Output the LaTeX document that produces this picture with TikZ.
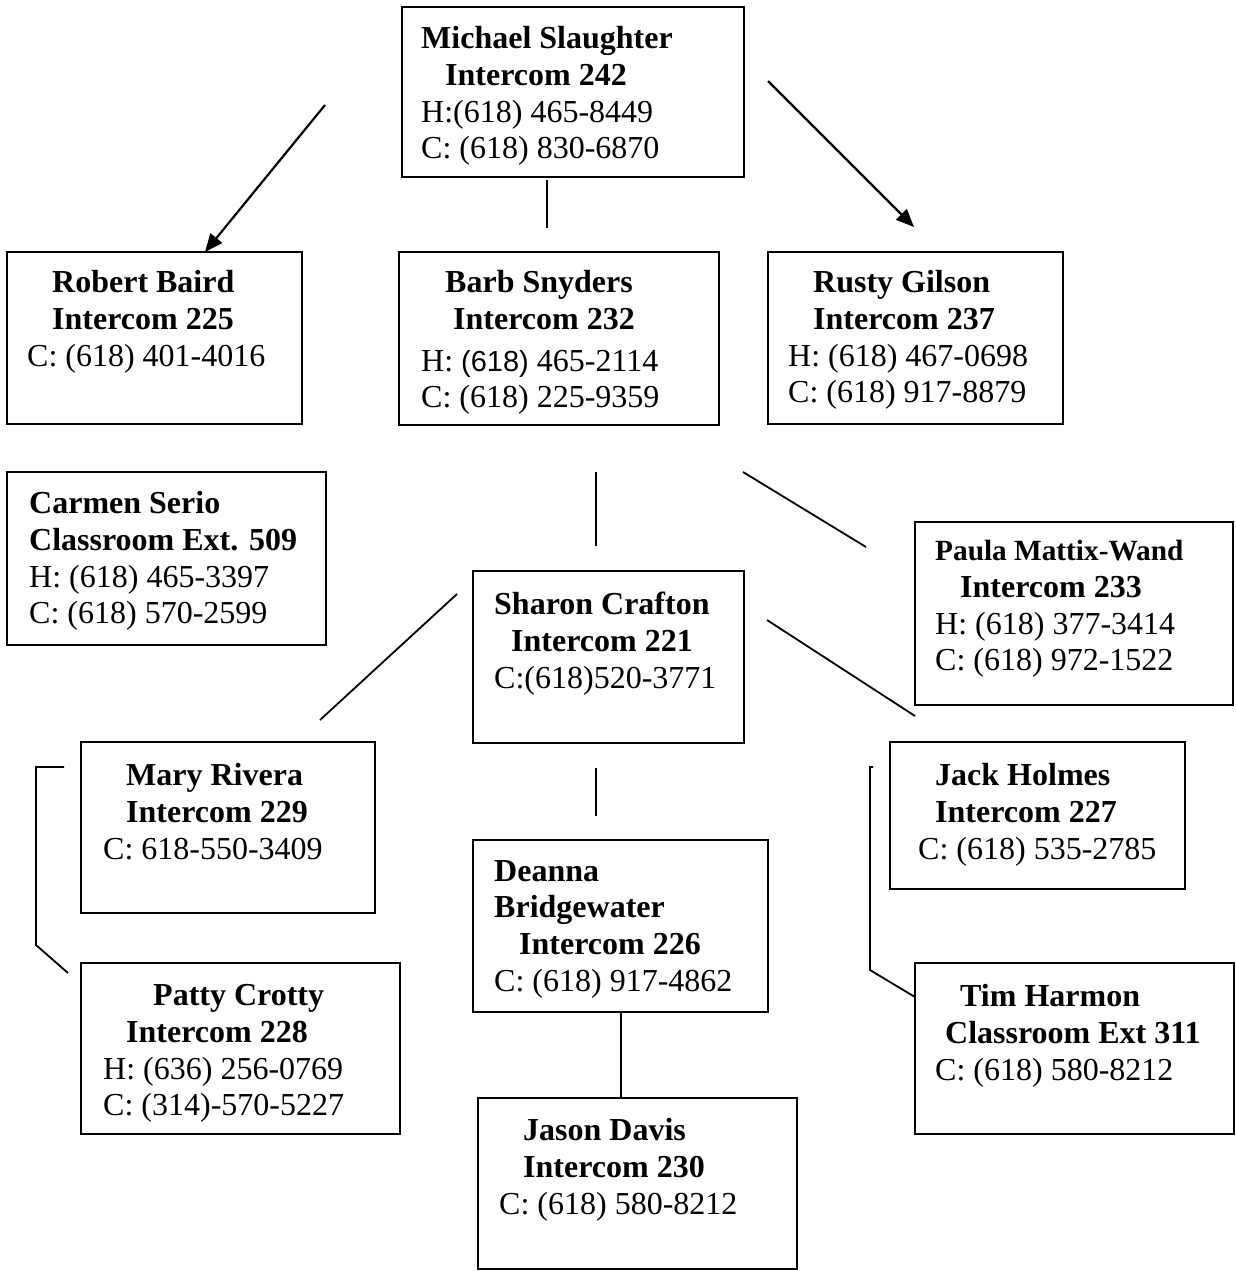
\documentclass[tikz,border=0pt]{standalone}
\usepackage{fontspec}
\setmainfont{Liberation Serif}
\newfontfamily\arialfont{Liberation Sans}
\usetikzlibrary{positioning,arrows.meta}
\newcommand\boxfont{\fontsize{32}{36.8}\selectfont}

\begin{document}
\begin{tikzpicture}[x=1pt,y=-1pt,
  box/.style={draw=black,line width=1.8pt,anchor=north west,inner sep=0pt,outer sep=0pt},
  txt/.style={anchor=north west,inner sep=0pt,align=left,font=\boxfont,yshift=-4pt},
  link/.style={draw=black,line width=1.8pt},
  >={Triangle[length=18pt,width=15pt]}]
\useasboundingbox (0,0) rectangle (1236,1271);

% boxes and texts
\node[box,minimum width=342,minimum height=170] (slaughter) at (402,7) {};
\node[txt] (slaughter-t) at (421,22) {\textbf{Michael Slaughter}\\\hspace*{24pt}\textbf{Intercom 242}\\H:(618) 465-8449\\C: (618) 830-6870};

\node[box,minimum width=295,minimum height=172] (baird) at (7,252) {};
\node[txt] (baird-t) at (27,266) {\hspace*{25pt}\textbf{Robert Baird}\\\hspace*{25pt}\textbf{Intercom 225}\\C: (618) 401-4016};

\node[box,minimum width=320,minimum height=173] (snyders) at (399,252) {};
\node[txt] (snyders-t) at (421,266) {\hspace*{24pt}\textbf{Barb Snyders}\\\hspace*{32pt}\textbf{Intercom 232}\\[5pt]H: {\arialfont\fontsize{29}{36.8}\selectfont(618)} 465-2114\\C: (618) 225-9359};

\node[box,minimum width=295,minimum height=172] (gilson) at (768,252) {};
\node[txt] (gilson-t) at (788,266) {\hspace*{25pt}\textbf{Rusty Gilson}\\\hspace*{25pt}\textbf{Intercom 237}\\H: (618) 467-0698\\C: (618) 917-8879};

\node[box,minimum width=319,minimum height=173] (serio) at (7,472) {};
\node[txt] (serio-t) at (29,487) {\textbf{Carmen Serio}\\\textbf{Classroom Ext. 509}\\H: (618) 465-3397\\C: (618) 570-2599};

\node[box,minimum width=318,minimum height=183] (mattix) at (915,522) {};
\node[txt] (mattix-t) at (935,536) {{\fontsize{29.3}{36.8}\selectfont\textbf{Paula Mattix-Wand}}\\\hspace*{25pt}\textbf{Intercom 233}\\H: (618) 377-3414\\C: (618) 972-1522};

\node[box,minimum width=271,minimum height=172] (crafton) at (473,571) {};
\node[txt] (crafton-t) at (494,588) {\textbf{Sharon Crafton}\\\hspace*{17pt}\textbf{Intercom 221}\\C:(618)520-3771};

\node[box,minimum width=294,minimum height=171] (rivera) at (81,742) {};
\node[txt] (rivera-t) at (103,759) {\hspace*{23pt}\textbf{Mary Rivera}\\\hspace*{23pt}\textbf{Intercom 229}\\C: 618-550-3409};

\node[box,minimum width=295,minimum height=147] (holmes) at (890,742) {};
\node[txt] (holmes-t) at (918,759) {\hspace*{17pt}\textbf{Jack Holmes}\\\hspace*{17pt}\textbf{Intercom 227}\\C: (618) 535-2785};

\node[box,minimum width=295,minimum height=172] (bridgewater) at (473,840) {};
\node[txt] (bridgewater-t) at (494,856) {\textbf{Deanna}\\\textbf{Bridgewater}\\\hspace*{25pt}\textbf{Intercom 226}\\C: (618) 917-4862};

\node[box,minimum width=319,minimum height=171] (crotty) at (81,963) {};
\node[txt] (crotty-t) at (103,980) {\hspace*{50pt}\textbf{Patty Crotty}\\\hspace*{23pt}\textbf{Intercom 228}\\H: (636) 256-0769\\C: (314)-570-5227};

\node[box,minimum width=319,minimum height=171] (harmon) at (915,963) {};
\node[txt] (harmon-t) at (935,980) {\hspace*{25pt}\textbf{Tim Harmon}\\\hspace*{10pt}\textbf{Classroom Ext 311}\\C: (618) 580-8212};

\node[box,minimum width=319,minimum height=171] (davis) at (478,1098) {};
\node[txt] (davis-t) at (499,1114) {\hspace*{24pt}\textbf{Jason Davis}\\\hspace*{24pt}\textbf{Intercom 230}\\C: (618) 580-8212};

% loose line ends
\coordinate (ms-down) at (547,180);
\coordinate (bs-up) at (547,228);
\coordinate (ms-left) at (325,105);
\coordinate (rb-tip) at (205,252);
\coordinate (ms-right) at (768,81);
\coordinate (rg-tip) at (914,227);
\coordinate (bs-down) at (596,472);
\coordinate (sc-up) at (596,546);
\coordinate (bs-corner) at (743,472);
\coordinate (pm-left) at (866,547);
\coordinate (sc-left) at (457,594);
\coordinate (mr-up) at (320,720);
\coordinate (sc-right) at (767,620);
\coordinate (jh-up) at (915,716);
\coordinate (sc-down) at (596,768);
\coordinate (db-up) at (596,816);
\coordinate (mr-tick) at (64,767);
\coordinate (pc-tick) at (68,973);
\coordinate (jh-tick) at (873,767);
\coordinate (th-tick) at (915,997);

% connectors
\draw[link] (ms-down) -- (bs-up);
\draw[link,line width=2.2pt,->] (ms-left) -- (rb-tip);
\draw[link,line width=2.2pt,->] (ms-right) -- (rg-tip);
\draw[link] (bs-down) -- (sc-up);
\draw[link] (bs-corner) -- (pm-left);
\draw[link] (sc-left) -- (mr-up);
\draw[link] (sc-right) -- (jh-up);
\draw[link] (sc-down) -- (db-up);
\draw[link] ([xshift=0.5pt]bridgewater.south) -- ([xshift=0.5pt]bridgewater.south |- davis.north);
\draw[link] (mr-tick) -- ++(-28,0) -- ++(0,178) -- (pc-tick);
\draw[link] (jh-tick) -- ++(-3,0) -- ++(0,203) -- (th-tick);
\end{tikzpicture}
\end{document}
